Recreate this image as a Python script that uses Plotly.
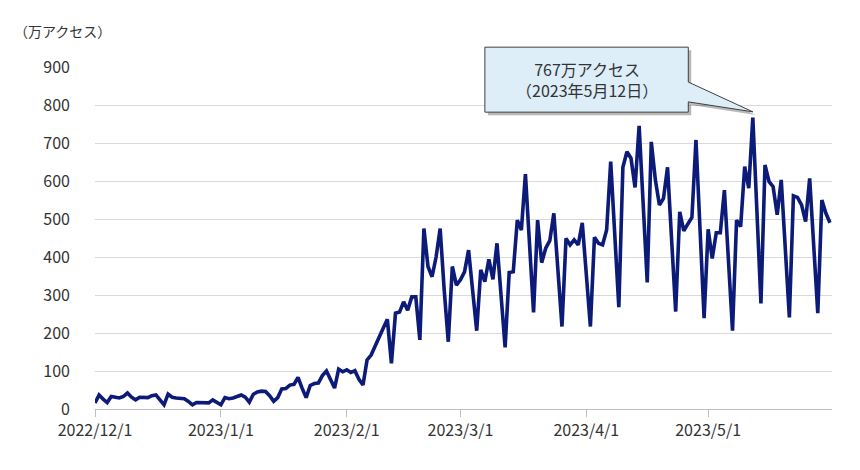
import pandas as pd
import plotly.graph_objects as go

START_DATE = "2022-12-01"
END_DATE = "2023-05-31"

# daily access, 万アクセス
dec_values = [16, 37, 26, 17, 33, 31, 29, 33, 42, 31, 24, 31, 30, 30, 35, 37,
              24, 11, 39, 31, 29, 29, 27, 20, 11, 17, 17, 17, 16, 24, 17]
jan_values = [11, 30, 27, 29, 32, 37, 31, 18, 39, 45, 47, 46, 35, 20, 30, 53,
              54, 63, 65, 83, 55, 30, 62, 67, 68, 88, 100, 79, 55, 105, 98]
feb_values = [103, 96, 101, 78, 63, 129, 142, 164, 190, 213, 236, 120, 252, 255,
              282, 260, 295, 295, 182, 475, 375, 348, 400, 475, 313, 177, 375, 326]
mar_values = [340, 361, 418, 310, 206, 366, 335, 394, 341, 436, 300, 162, 359, 361,
              497, 471, 618, 436, 254, 497, 385, 423, 443, 515, 366, 217, 449, 432,
              445, 432, 490]
apr_values = [353, 217, 452, 436, 432, 471, 651, 460, 268, 636, 677, 660, 583, 745,
              540, 333, 703, 603, 537, 554, 636, 445, 256, 519, 469, 487, 504, 708,
              472, 239]
may_values = [473, 396, 464, 464, 576, 390, 206, 497, 480, 638, 581, 767, 522, 278,
              642, 598, 585, 511, 603, 422, 241, 561, 557, 537, 493, 607, 430, 252,
              550, 515, 490]

Y_TITLE = "（万アクセス）"
LINE_COLOR = "#0c1a78"
TEXT_COLOR = "#333333"
FONT = "Noto Sans CJK JP"


def main():
    dates = pd.date_range(START_DATE, END_DATE, freq="D")
    values = dec_values + jan_values + feb_values + mar_values + apr_values + may_values
    df = pd.DataFrame({"date": dates, "access": values})

    x_start = pd.Timestamp(START_DATE)
    x_end = pd.Timestamp(END_DATE) + pd.Timedelta(hours=12)
    y_max = 900

    fig = go.Figure()
    fig.add_trace(go.Scatter(x=df["date"], y=df["access"], mode="lines",
                             line=dict(color=LINE_COLOR, width=3.6),
                             hoverinfo="skip", showlegend=False))

    # callout for the peak
    peak = df.loc[df["access"].idxmax()]
    tip_x = (peak["date"] - x_start) / (x_end - x_start)
    tip_y = (peak["access"] + 15) / y_max
    bx0, bx1, by0, by1 = 0.529, 0.805, 0.868, 1.058
    wa, wb = 0.956, 0.898

    def callout(dx=0.0, dy=0.0):
        pts = [(bx0, by0), (bx0, by1), (bx1, by1), (bx1, wa), (tip_x, tip_y),
               (bx1, wb), (bx1, by0)]
        return "M " + " L ".join(f"{x + dx:.4f},{y + dy:.4f}" for x, y in pts) + " Z"

    fig.add_shape(type="path", xref="paper", yref="paper", path=callout(0.004, -0.009),
                  fillcolor="rgba(0,0,0,0.28)", line=dict(width=0), layer="above")
    fig.add_shape(type="path", xref="paper", yref="paper", path=callout(),
                  fillcolor="#ddeef8", line=dict(color="#404040", width=1), layer="above")

    peak_text = (f"{peak['access']}万アクセス<br>"
                 f"（{peak['date'].year}年{peak['date'].month}月{peak['date'].day}日）")
    fig.add_annotation(xref="paper", yref="paper", x=(bx0 + bx1) / 2, y=(by0 + by1) / 2,
                       xanchor="center", yanchor="middle",
                       text=peak_text, showarrow=False, align="center",
                       font=dict(size=16, color=TEXT_COLOR, family=FONT))

    fig.add_annotation(xref="paper", yref="paper", x=-0.113, y=1.105,
                       xanchor="left", yanchor="middle", text=Y_TITLE, showarrow=False,
                       font=dict(size=14, color=TEXT_COLOR, family=FONT))

    # page body keeps an 8px margin, so the figure is 8px smaller each way
    fig.update_layout(
        width=852, height=462,
        margin=dict(l=87, r=28, t=59, b=61),
        paper_bgcolor="white", plot_bgcolor="white",
        font=dict(family=FONT, size=16, color=TEXT_COLOR),
        hovermode=False,
    )
    fig.update_xaxes(range=[x_start, x_end], tick0=START_DATE, dtick="M1",
                     tickformat="%Y/%-m/%-d", ticks="outside", ticklen=7,
                     tickcolor="#bfbfbf", showline=True, linecolor="#bfbfbf",
                     linewidth=1, showgrid=False, zeroline=False,
                     tickfont=dict(size=16, color=TEXT_COLOR))
    fig.update_yaxes(range=[0, y_max], dtick=100, showgrid=True, gridcolor="#d9d9d9",
                     gridwidth=1, zeroline=False, showline=False, ticks="",
                     ticklabelstandoff=24, tickfont=dict(size=16, color=TEXT_COLOR))

    fig.write_html("out.html")


if __name__ == "__main__":
    main()
